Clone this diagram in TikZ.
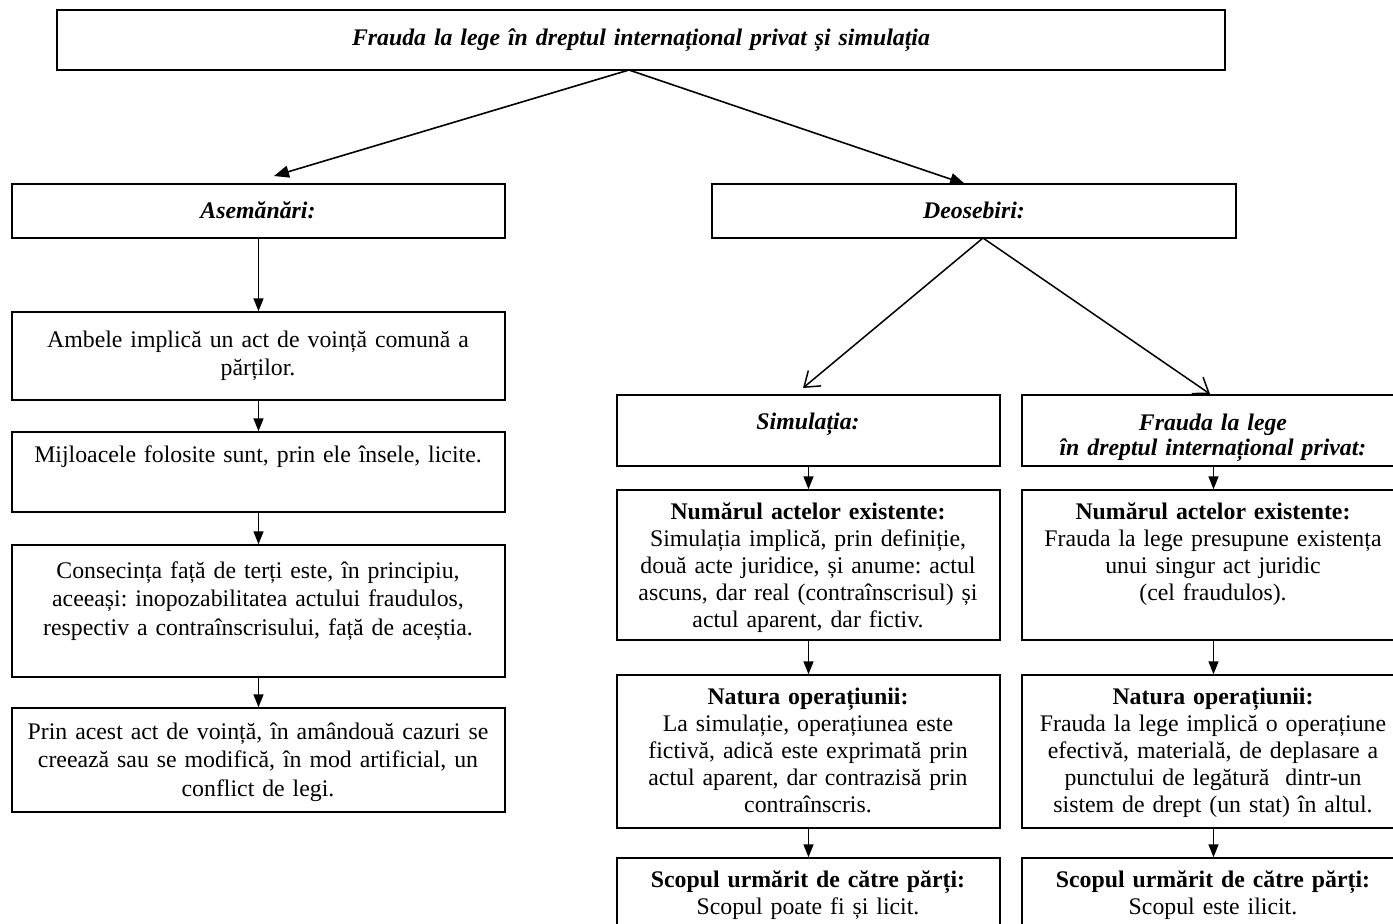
\documentclass[tikz,border=0pt]{standalone}
\usepackage{fontspec}
\setmainfont{Liberation Serif}
\usetikzlibrary{arrows.meta,fit}
\frenchspacing
\tikzset{
  bx/.style={draw, line width=1.5pt, inner sep=0pt},
  tx/.style={anchor=base, inner sep=0pt, align=center, text width=#1,
             font=\fontsize{23.8}{28.5}\selectfont},
  tr/.style={anchor=base, inner sep=0pt, align=center, text width=#1,
             font=\fontsize{23.8}{27}\selectfont},
  hd/.style={anchor=base, inner sep=0pt, align=center, text width=#1,
             font=\fontsize{23.8}{25}\selectfont\bfseries\itshape},
  arr/.style={line width=1.6pt, -{Triangle[length=13pt,width=10pt]}},
  tarr/.style={line width=1.6pt, -{Triangle[length=15pt,width=12pt]}},
  oarr/.style={line width=1.5pt, -{Straight Barb[length=14pt,width=20pt,line width=1.5pt]}},
}
\begin{document}
\begin{tikzpicture}[x=1pt,y=-1pt]
\useasboundingbox (0,0) rectangle (1393,924);
\clip (0,0) rectangle (1393,924);
% boxes
\node[bx, fit={(57,10)(1225,70)}] (top) {};
\node[bx, fit={(12,184)(505,238)}] (asem) {};
\node[bx, fit={(712,184)(1236,238)}] (deos) {};
\node[bx, fit={(12,312)(505,400)}] (amb) {};
\node[bx, fit={(12,432)(505,512)}] (mij) {};
\node[bx, fit={(12,545)(505,677)}] (cons) {};
\node[bx, fit={(12,708)(505,812)}] (prin) {};
\node[bx, fit={(617,395)(1000,466)}] (sim) {};
\node[bx, fit={(1022,395)(1405,466)}] (fr) {};
\node[bx, fit={(617,490)(1000,640)}] (numl) {};
\node[bx, fit={(1022,490)(1405,640)}] (numr) {};
\node[bx, fit={(617,675)(1000,828)}] (natl) {};
\node[bx, fit={(1022,675)(1405,828)}] (natr) {};
\node[bx, fit={(617,858)(1000,960)}] (scl) {};
\node[bx, fit={(1022,858)(1405,960)}] (scr) {};
% texts
\node[hd=1100pt] (t-top) at (641,45) {Frauda la lege în dreptul internațional privat și simulația};
\node[hd=480pt] (t-asem) at (258,218) {Asemănări:};
\node[hd=500pt] (t-deos) at (974,218) {Deosebiri:};
\node[tx=490pt] (t-amb) at (258,347) {Ambele implică un act de voință comună a\\ părților.};
\node[tx=490pt] (t-mij) at (258,462) {Mijloacele folosite sunt, prin ele însele, licite.};
\node[tx=490pt] (t-cons) at (258,578) {Consecința față de terți este, în principiu,\\ aceeași: inopozabilitatea actului fraudulos,\\ respectiv a contraînscrisului, față de aceștia.};
\node[tx=490pt] (t-prin) at (258,739) {Prin acest act de voință, în amândouă cazuri se\\ creează sau se modifică, în mod artificial, un\\ conflict de legi.};
\node[hd=380pt] (t-sim) at (808,429) {Simulația:};
\node[hd=380pt] (t-fr) at (1213,430) {Frauda la lege\\ în dreptul internațional privat:};
\node[tr=400pt] (t-numl) at (808,519) {\textbf{Numărul actelor existente:}\\ Simulația implică, prin definiție,\\ două acte juridice, și anume: actul\\ ascuns, dar real (contraînscrisul) și\\ actul aparent, dar fictiv.};
\node[tr=400pt] (t-numr) at (1213,519) {\textbf{Numărul actelor existente:}\\ Frauda la lege presupune existența\\ unui singur act juridic\\ (cel fraudulos).};
\node[tr=400pt] (t-natl) at (808,704) {\textbf{Natura operațiunii:}\\ La simulație, operațiunea este\\ fictivă, adică este exprimată prin\\ actul aparent, dar contrazisă prin\\ contraînscris.};
\node[tr=400pt] (t-natr) at (1213,704) {\textbf{Natura operațiunii:}\\ Frauda la lege implică o operațiune\\ efectivă, materială, de deplasare a\\ punctului de legătură\ \ dintr-un\\ sistem de drept (un stat) în altul.};
\node[tr=400pt] (t-scl) at (808,887) {\textbf{Scopul urmărit de către părți:}\\ Scopul poate fi și licit.};
\node[tr=400pt] (t-scr) at (1213,887) {\textbf{Scopul urmărit de către părți:}\\ Scopul este ilicit.};
% connector points
\coordinate (ts) at (629,70);
\coordinate (ta) at (274,176);
\coordinate (td) at (965,184);
\coordinate (ds) at (983,238);
\coordinate (dl) at (803,388);
\coordinate (dr) at (1210,394);
% connectors
\draw[tarr] (ts) -- (ta);
\draw[tarr] (ts) -- (td);
\draw[oarr] (ds) -- (dl);
\draw[oarr] (ds) -- (dr);
\draw[arr] (asem.south) -- (amb.north);
\draw[arr] (amb.south) -- (mij.north);
\draw[arr] (mij.south) -- (cons.north);
\draw[arr] (cons.south) -- (prin.north);
\draw[arr] (sim.south) -- (numl.north);
\draw[arr] (numl.south) -- (natl.north);
\draw[arr] (natl.south) -- (scl.north);
\draw[arr] (fr.south) -- (numr.north);
\draw[arr] (numr.south) -- (natr.north);
\draw[arr] (natr.south) -- (scr.north);
\end{tikzpicture}
\end{document}
